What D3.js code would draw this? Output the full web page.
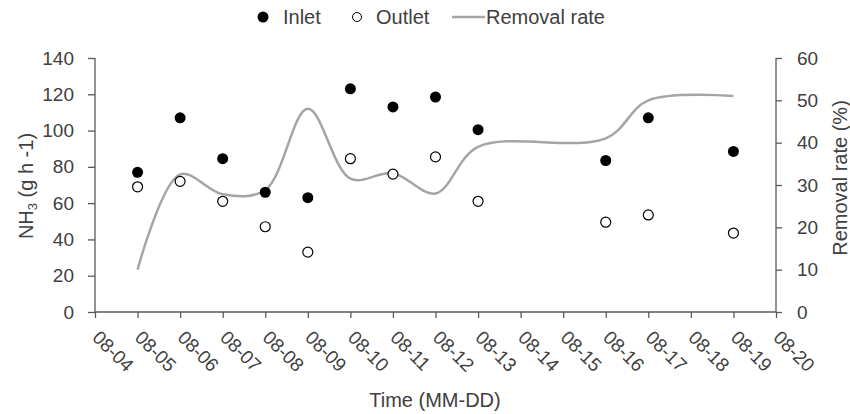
<!DOCTYPE html>
<html><head><meta charset="utf-8">
<script src="https://cdn.jsdelivr.net/npm/d3@7"></script>
<style>
body{margin:0;background:#fff;}
text{font-family:"Liberation Sans",Arial,sans-serif;fill:#404040;}
</style></head>
<body><svg id="c" width="850" height="414"></svg>
<script>
const dateLabels = ["08-04","08-05","08-06","08-07","08-08","08-09","08-10","08-11","08-12","08-13","08-14","08-15","08-16","08-17","08-18","08-19","08-20"];
const dayIndex = [1,2,3,4,5,6,7,8,9,12,13,15];
const inlet  = [77,107,84.5,66,63,123,113,118.5,100.5,83.5,107,88.5];
const outlet = [69,72,61,47,33,84.5,76,85.5,61,49.5,53.5,43.5];
const removal = [10,32.5,27.8,28.8,48,31.5,32.8,28,39,41,50,51];
const leftTicks = [0,20,40,60,80,100,120,140];
const rightTicks = [0,10,20,30,40,50,60];
const legendNames = ["Inlet","Outlet","Removal rate"];

const svg = d3.select("#c");
const L=95, R=776, T=58, B=312;
const x = d3.scaleLinear().domain([0,16]).range([L,R]);
const y = d3.scaleLinear().domain([0,140]).range([B,T]);
const y2 = d3.scaleLinear().domain([0,60]).range([B,T]);
const axisCol="#595959", fs=19, tfs=20;

const gl = svg.append("g").attr("transform",`translate(${L},0)`)
  .call(d3.axisLeft(y).tickValues(leftTicks).tickSize(7).tickPadding(14));
const gr = svg.append("g").attr("transform",`translate(${R},0)`)
  .call(d3.axisRight(y2).tickValues(rightTicks).tickSize(6).tickPadding(15));
const gb = svg.append("g").attr("transform",`translate(0,${B})`)
  .call(d3.axisBottom(x).tickValues(d3.range(0,17)).tickSize(6).tickFormat(""));
[gl,gr,gb].forEach(g=>{
  g.select(".domain").attr("stroke",axisCol).attr("stroke-width",1.3);
  g.selectAll(".tick line").attr("stroke",axisCol).attr("stroke-width",1.3);
  g.selectAll(".tick text").attr("font-size",fs).attr("fill","#404040")
   .style("font-family",'"Liberation Sans",Arial,sans-serif');
});
gb.select(".domain").attr("d",`M${L},0H${R}`);
gl.select(".domain").attr("d",`M0,${T}V${B}`);
gr.select(".domain").attr("d",`M0,${T}V${B}`);

svg.append("g").selectAll("text").data(dateLabels).join("text")
  .attr("transform",(d,i)=>`translate(${x(i)+1},${334}) rotate(45)`)
  .attr("text-anchor","start").attr("dy","0.35em")
  .attr("font-size",fs).text(d=>d);

const line = d3.line().x((d,i)=>x(dayIndex[i])).y(d=>y2(d)).curve(d3.curveCatmullRom.alpha(0.5));
svg.append("path").datum(removal).attr("d",line).attr("fill","none")
  .attr("stroke","#a5a5a5").attr("stroke-width",2.5);

svg.append("g").selectAll("circle").data(inlet).join("circle")
  .attr("cx",(d,i)=>x(dayIndex[i])).attr("cy",d=>y(d)).attr("r",5.5).attr("fill","#000");
svg.append("g").selectAll("circle").data(outlet).join("circle")
  .attr("cx",(d,i)=>x(dayIndex[i])).attr("cy",d=>y(d)).attr("r",5).attr("fill","#fff")
  .attr("stroke","#000").attr("stroke-width",1.2);

svg.append("text").attr("x",435).attr("y",407).attr("text-anchor","middle").attr("font-size",tfs).text("Time (MM-DD)");
const yt = svg.append("text").attr("transform","translate(33,186) rotate(-90)").attr("text-anchor","middle").attr("font-size",tfs);
yt.append("tspan").text("NH");
yt.append("tspan").attr("font-size",13).attr("dy",4).text("3");
yt.append("tspan").attr("dy",-4).text(" (g h -1)");
svg.append("text").attr("transform","translate(847,178) rotate(-90)").attr("text-anchor","middle").attr("font-size",tfs).text("Removal rate (%)");

const lg = svg.append("g");
const ly = 17;
lg.append("circle").attr("cx",263).attr("cy",ly).attr("r",5.5).attr("fill","#000");
lg.append("text").attr("x",283).attr("y",ly+7).attr("font-size",tfs).text(legendNames[0]);
lg.append("circle").attr("cx",357).attr("cy",ly).attr("r",4.5).attr("fill","#fff").attr("stroke","#000").attr("stroke-width",1);
lg.append("text").attr("x",376).attr("y",ly+7).attr("font-size",tfs).text(legendNames[1]);
lg.append("line").attr("x1",452).attr("x2",485).attr("y1",ly).attr("y2",ly).attr("stroke","#a5a5a5").attr("stroke-width",2.5);
lg.append("text").attr("x",486).attr("y",ly+7).attr("font-size",tfs).text(legendNames[2]);
</script></body></html>
